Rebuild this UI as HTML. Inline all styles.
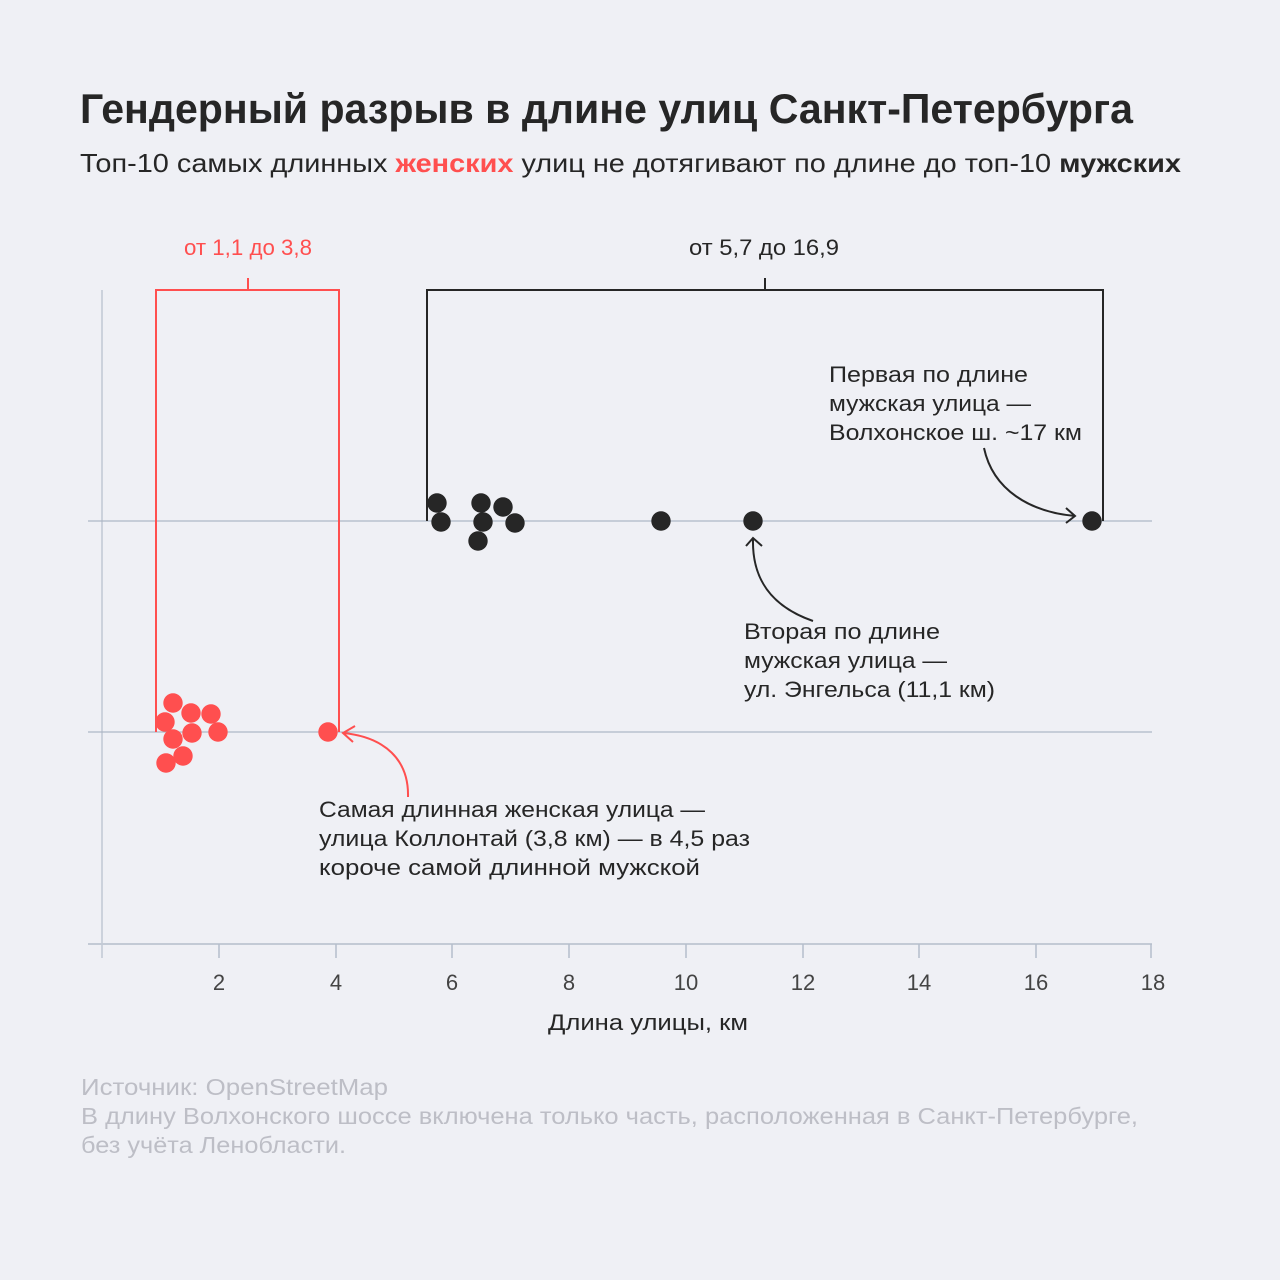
<!DOCTYPE html>
<html><head><meta charset="utf-8"><style>
html,body{margin:0;padding:0;background:#EFF0F5;}
svg{display:block;}
text{font-family:"Liberation Sans","DejaVu Sans",sans-serif;}
</style></head><body>
<svg width="1280" height="1280" viewBox="0 0 1280 1280" xmlns="http://www.w3.org/2000/svg">
<rect width="1280" height="1280" fill="#EFF0F5"/>
<!-- Title -->
<text x="80" y="123" font-size="42" font-weight="bold" fill="#262626" textLength="1053" lengthAdjust="spacingAndGlyphs">Гендерный разрыв в длине улиц Санкт-Петербурга</text>
<text x="80" y="172" font-size="26" fill="#262626" textLength="1101" lengthAdjust="spacingAndGlyphs">Топ-10 самых длинных <tspan font-weight="bold" fill="#FF4F4F">женских</tspan> улиц не дотягивают по длине до топ-10 <tspan font-weight="bold">мужских</tspan></text>

<!-- grid -->
<line x1="88" y1="521" x2="1152" y2="521" stroke="#9DAABA" stroke-width="1"/>
<line x1="88" y1="732" x2="1152" y2="732" stroke="#9DAABA" stroke-width="1"/>
<line x1="102" y1="290" x2="102" y2="958" stroke="#A9B4C3" stroke-width="1"/>
<line x1="88" y1="944" x2="1152" y2="944" stroke="#C3CAD5" stroke-width="2"/>
<g stroke="#B4BECB" stroke-width="1.5">
<line x1="219" y1="944" x2="219" y2="958"/>
<line x1="336" y1="944" x2="336" y2="958"/>
<line x1="452" y1="944" x2="452" y2="958"/>
<line x1="569" y1="944" x2="569" y2="958"/>
<line x1="686" y1="944" x2="686" y2="958"/>
<line x1="803" y1="944" x2="803" y2="958"/>
<line x1="919" y1="944" x2="919" y2="958"/>
<line x1="1036" y1="944" x2="1036" y2="958"/>
<line x1="1151" y1="944" x2="1151" y2="958"/>
</g>
<g font-size="22" fill="#444" text-anchor="middle">
<text x="219" y="990">2</text>
<text x="336" y="990">4</text>
<text x="452" y="990">6</text>
<text x="569" y="990">8</text>
<text x="686" y="990">10</text>
<text x="803" y="990">12</text>
<text x="919" y="990">14</text>
<text x="1036" y="990">16</text>
<text x="1153" y="990">18</text>
</g>
<text x="548" y="1030" font-size="22" fill="#262626" textLength="200" lengthAdjust="spacingAndGlyphs">Длина улицы, км</text>

<!-- brackets -->
<path d="M156,732 V290 H339 V732 M248,278 V290" fill="none" stroke="#FF4F4F" stroke-width="2"/>
<path d="M427,521 V290 H1103 V521 M765,278 V290" fill="none" stroke="#262626" stroke-width="2"/>
<text x="184" y="255" font-size="22" fill="#FF4F4F" textLength="128" lengthAdjust="spacingAndGlyphs">от 1,1 до 3,8</text>
<text x="689" y="255" font-size="22" fill="#262626" textLength="150" lengthAdjust="spacingAndGlyphs">от 5,7 до 16,9</text>

<!-- red dots -->
<g fill="#FF4F4F">
<circle cx="173" cy="703" r="9.7"/>
<circle cx="165" cy="722" r="9.7"/>
<circle cx="191" cy="713" r="9.7"/>
<circle cx="211" cy="714" r="9.7"/>
<circle cx="192" cy="733" r="9.7"/>
<circle cx="218" cy="732" r="9.7"/>
<circle cx="173" cy="739" r="9.7"/>
<circle cx="183" cy="756" r="9.7"/>
<circle cx="166" cy="763" r="9.7"/>
<circle cx="328" cy="732" r="9.7"/>
</g>
<!-- black dots -->
<g fill="#262626">
<circle cx="437" cy="503" r="9.7"/>
<circle cx="441" cy="522" r="9.7"/>
<circle cx="481" cy="503" r="9.7"/>
<circle cx="483" cy="522" r="9.7"/>
<circle cx="503" cy="507" r="9.7"/>
<circle cx="515" cy="523" r="9.7"/>
<circle cx="478" cy="541" r="9.7"/>
<circle cx="661" cy="521" r="9.7"/>
<circle cx="753" cy="521" r="9.7"/>
<circle cx="1092" cy="521" r="9.7"/>
</g>

<!-- arrows -->
<path d="M408,797 C409,760 385,737 343,733 M355,726 L343,733 L353,742" fill="none" stroke="#FF4F4F" stroke-width="2"/>
<path d="M813,621 C770,606 752,578 753,539 M746,546 L753,538 L762,546" fill="none" stroke="#262626" stroke-width="2"/>
<path d="M984,448 C993,490 1030,512 1075,516 M1066,508 L1075,516 L1066,523" fill="none" stroke="#262626" stroke-width="2"/>

<!-- annotations -->
<g font-size="22" fill="#262626">
<text x="829" y="382" textLength="199" lengthAdjust="spacingAndGlyphs">Первая по длине</text>
<text x="829" y="411" textLength="202" lengthAdjust="spacingAndGlyphs">мужская улица —</text>
<text x="829" y="440" textLength="253" lengthAdjust="spacingAndGlyphs">Волхонское ш. ~17 км</text>
<text x="744" y="639" textLength="196" lengthAdjust="spacingAndGlyphs">Вторая по длине</text>
<text x="744" y="668" textLength="203" lengthAdjust="spacingAndGlyphs">мужская улица —</text>
<text x="744" y="697" textLength="251" lengthAdjust="spacingAndGlyphs">ул. Энгельса (11,1 км)</text>
<text x="319" y="817" textLength="386" lengthAdjust="spacingAndGlyphs">Самая длинная женская улица —</text>
<text x="319" y="846" textLength="431" lengthAdjust="spacingAndGlyphs">улица Коллонтай (3,8 км) — в 4,5 раз</text>
<text x="319" y="875" textLength="381" lengthAdjust="spacingAndGlyphs">короче самой длинной мужской</text>
</g>

<!-- footnote -->
<g font-size="23" fill="#BDBEC6">
<text x="81" y="1095" textLength="307" lengthAdjust="spacingAndGlyphs">Источник: OpenStreetMap</text>
<text x="81" y="1124" textLength="1057" lengthAdjust="spacingAndGlyphs">В длину Волхонского шоссе включена только часть, расположенная в Санкт-Петербурге,</text>
<text x="81" y="1153" textLength="265" lengthAdjust="spacingAndGlyphs">без учёта Ленобласти.</text>
</g>
</svg>
</body></html>
